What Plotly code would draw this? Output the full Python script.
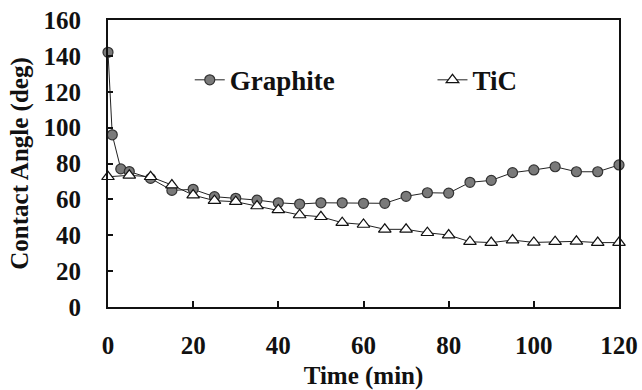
import plotly.graph_objects as go

graphite_t = [0, 1, 3, 5, 10, 15, 20, 25, 30, 35, 40, 45, 50, 55, 60, 65, 70, 75, 80, 85, 90, 95, 100, 105, 110, 115, 120]
graphite_v = [142, 96, 77, 75.5, 71.7, 65, 65.6, 61.5, 60.6, 59.6, 58.1, 57.4, 58.1, 58.1, 57.8, 57.8, 61.7, 63.7, 63.5, 69.5, 70.6, 74.9, 76.4, 78.2, 75.4, 75.4, 79.2]

tic_t = [0, 5, 10, 15, 20, 25, 30, 35, 40, 45, 50, 55, 60, 65, 70, 75, 80, 85, 90, 95, 100, 105, 110, 115, 120]
tic_v = [72.6, 73.4, 72.6, 68, 62.4, 59.3, 58.7, 56.3, 54.1, 51.3, 50.3, 47, 46, 43.3, 43.3, 41.4, 40.1, 36.4, 35.9, 37.3, 36.0, 36.4, 36.6, 35.9, 35.9]

x_ticks = [0, 20, 40, 60, 80, 100, 120]
y_ticks = [0, 20, 40, 60, 80, 100, 120, 140, 160]

FONT = "Liberation Serif"

fig = go.Figure()
fig.add_trace(go.Scatter(
    x=graphite_t, y=graphite_v, name="Graphite", mode="lines+markers",
    line=dict(color="#222222", width=1),
    marker=dict(symbol="circle", size=10, color="#7a7a7a", line=dict(color="#333333", width=1.2)),
    cliponaxis=False, legend="legend",
))
fig.add_trace(go.Scatter(
    x=tic_t, y=tic_v, name="TiC", mode="lines+markers",
    line=dict(color="#222222", width=1),
    marker=dict(symbol="triangle-up", size=11, color="white", line=dict(color="#111111", width=1.2)),
    cliponaxis=False, legend="legend2",
))

axis_font = dict(family=FONT, size=25, color="#111111", weight="bold")
leg_font = dict(family=FONT, size=27, color="#111111", weight="bold")

fig.update_layout(
    width=642, height=390,
    font=dict(family=FONT, color="#111111", weight="bold"),
    margin=dict(l=108, r=23, t=20, b=83),
    paper_bgcolor="white", plot_bgcolor="white",
    showlegend=True,
    legend=dict(x=0.16, y=0.79, xanchor="left", yanchor="middle",
                font=leg_font, bgcolor="rgba(0,0,0,0)", itemwidth=30),
    legend2=dict(x=0.635, y=0.79, xanchor="left", yanchor="middle",
                 font=leg_font, bgcolor="rgba(0,0,0,0)", itemwidth=30),
    xaxis=dict(
        range=[0, 120], tickvals=x_ticks, ticktext=[str(v) for v in x_ticks],
        ticks="inside", ticklen=6, tickwidth=2, tickcolor="#111111",
        showline=True, linecolor="#111111", linewidth=2, mirror=True,
        showgrid=False, zeroline=False, automargin=False,
        tickfont=axis_font, ticklabelstandoff=15,
        title=dict(text="Time (min)", font=axis_font, standoff=12),
    ),
    yaxis=dict(
        range=[0, 160], tickvals=y_ticks, ticktext=[str(v) for v in y_ticks],
        ticks="inside", ticklen=5, tickwidth=2, tickcolor="#111111",
        showline=True, linecolor="#111111", linewidth=2, mirror=True,
        showgrid=False, zeroline=False, automargin=False,
        tickfont=axis_font, ticklabelstandoff=20,
        title=dict(text="Contact Angle (deg)", font=axis_font, standoff=8),
    ),
)

fig.write_html("out.html")
